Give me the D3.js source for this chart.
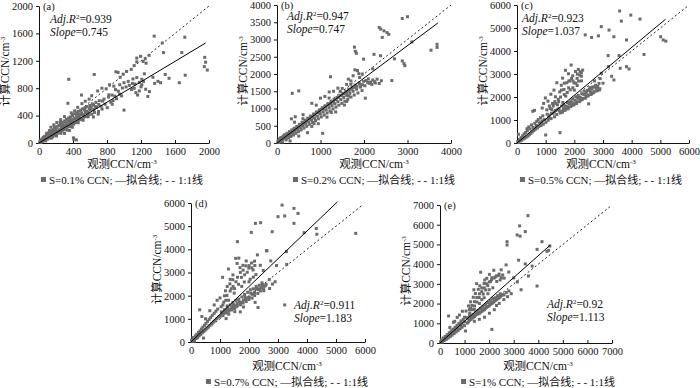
<!DOCTYPE html>
<html>
<head>
<meta charset="utf-8">
<script src="https://cdn.jsdelivr.net/npm/d3@7"></script>
<style>
body { margin: 0; background: #fff; }
svg text { font-family: "Liberation Serif", "Noto Sans CJK SC", serif; fill: #111; }
</style>
</head>
<body>
<svg id="chart" width="700" height="388"></svg>
<script>
// labels and stats
var panelLabels = ['(a)', '(b)', '(c)', '(d)', '(e)'];
var supersat = ['0.1%', '0.2%', '0.5%', '0.7%', '1%'];
var adjR2 = ['0.939', '0.947', '0.923', '0.911', '0.92'];
var slopes = ['0.745', '0.747', '1.037', '1.183', '1.113'];

// tick values
var ticksA = [0, 400, 800, 1200, 1600, 2000];
var xTicksB = [0, 1000, 2000, 3000, 4000];
var yTicksB = [0, 500, 1000, 1500, 2000, 2500, 3000, 3500, 4000];
var ticksCD = [0, 1000, 2000, 3000, 4000, 5000, 6000];
var ticksE = [0, 1000, 2000, 3000, 4000, 5000, 6000, 7000];

// fit line and 1:1 line end points
var fitA = [[0, 0], [1960, 1460]], oneA = [[0, 0], [2000, 2000]];
var fitB = [[0, 0], [3700, 3480]], oneB = [[0, 0], [4000, 4000]];
var fitC = [[0, 0], [5180, 5380]], oneC = [[0, 0], [6000, 6000]];
var fitD = [[0, 0], [5050, 6050]], oneD = [[0, 0], [5900, 5900]];
var fitE = [[0, 0], [4490, 4970]], oneE = [[0, 0], [7000, 7000]];

var pointsA = [
  [8,12],[15,34],[22,8],[28,48],[33,20],[40,62],[47,28],[52,80],[61,44],[66,96],[73,51],[79,31],[85,115],[93,66],[99,128],
  [104,58],[113,99],[117,146],[126,79],[130,163],[138,102],[145,70],[149,181],[157,122],[162,91],[171,194],[177,147],[184,113],
  [188,215],[198,157],[203,124],[213,238],[219,171],[224,146],[235,256],[239,193],[248,163],[253,281],[263,221],[271,176],
  [276,302],[286,239],[292,193],[302,322],[307,256],[318,207],[322,344],[333,266],[338,233],[348,362],[352,297],[364,241],
  [368,381],[379,311],[383,268],[394,402],[401,327],[409,275],[414,426],[426,350],[430,297],[441,442],[445,371],[457,323],
  [462,461],[473,380],[477,341],[489,478],[494,410],[505,346],[511,497],[523,414],[528,377],[541,515],[546,445],[559,386],
  [563,531],[578,452],[584,411],[598,548],[605,484],[620,421],[628,571],[645,490],[652,446],[670,592],[679,520],[700,460],
  [710,618],[731,536],[742,495],[765,641],[778,566],[803,516],[818,671],[845,596],[862,566],[893,684],[912,646],[948,714],[972,688],
  [60,70],[110,120],[150,140],[200,190],[230,170],[262,243],[283,262],[318,296],[352,318],[381,342],[412,364],[443,402],
  [471,418],[502,441],[538,482],[561,463],[592,503],[613,522],[641,553],[663,534],[205,102],[258,141],[331,188],[392,229],
  [461,296],[519,332],[577,383],[250,302],[181,232],[122,181],[91,143],[703,562],[748,612],[822,703],[871,618],[933,757],
  [981,803],[1024,818],[1063,842],[300,140],[358,183],[640,380],[697,423],
  [140,230],[175,265],[210,300],[255,340],[300,385],[345,360],[380,440],[420,470],[455,520],[505,575],[545,610],[590,640],
  [620,690],[690,760],[740,800],[790,790],[830,850],[880,830],[905,1040],[930,1030],[955,960],[990,1005],[1030,1045],
  [1085,1075],[1120,1130],[1150,1185],[1195,1265],[1225,1190],[1260,1165],[1295,1280],[1150,1240],[1250,1230],
  [340,580],[350,930],[500,700],[650,1000],[1000,480],[1300,750],[405,75],[440,45],[410,55],
  [1100,870],[1120,800],[1140,735],[1160,700],[1180,760],[1200,820],[1210,930],[1230,900],[1255,785],[1280,680],[1105,935],
  [1150,955],[1240,1010],[1180,885],[1130,860],[1210,850],[1090,780],[1050,900],[1000,880],[950,850],[900,780],[860,700],
  [1355,1560],[1450,1460],[1465,1320],[1485,1000],[1430,880],[1360,870],[1530,945],[1650,880],[1680,1320],[1720,990],
  [1715,1545],[1950,1250],[1960,1180],[1945,1115],[1980,1065],[1340,960],[1400,900]
];
var pointsB = [
  [15,30],[30,80],[45,15],[60,120],[75,50],[90,160],[110,90],[125,30],[140,200],[160,130],[175,240],[195,170],[210,90],
  [230,280],[250,210],[265,150],[285,330],[305,250],[320,190],[340,380],[360,300],[380,230],[395,430],[415,350],[435,280],
  [455,480],[475,400],[495,330],[515,540],[535,450],[555,380],[575,600],[598,505],[620,430],[640,660],[662,560],[684,485],
  [705,720],[728,615],[750,540],[772,780],[795,670],[818,595],[840,840],[862,725],[885,650],[905,900],[928,780],[950,700],
  [972,960],[995,840],[1018,755],[1040,1020],[1062,900],[1085,810],[1108,1080],[1130,960],[1152,870],[1175,1140],[1198,1020],
  [1220,925],[1242,1200],[1265,1080],[1288,985],[1310,1260],[1332,1140],[1355,1040],[1378,1320],[1400,1200],[1422,1095],
  [1445,1380],[1468,1260],[1490,1150],[1512,1440],[1535,1320],[1558,1210],[1580,1500],[1603,1380],[1626,1265],[1650,1560],
  [1675,1440],[1700,1330],[1725,1620],[1750,1500],[1775,1390],[1800,1680],[1830,1560],[1860,1450],[1890,1740],[1920,1620],
  [1955,1520],[1990,1790],[2020,1660],
  [132,144],[181,118],[243,262],[292,196],[371,354],[428,417],[493,462],[561,497],[612,583],[688,641],[743,703],[809,757],
  [872,823],[931,884],[988,918],[1063,983],[1118,1043],[1183,1097],[1237,1134],[1302,1183],[1361,1262],[1418,1324],
  [1483,1377],[1539,1423],[1602,1462],[1658,1524],[1721,1557],[1783,1613],[1838,1642],[1902,1703],[1963,1688],[402,603],
  [597,704],[903,1098],[1198,1302],[1452,1497],[1697,1703],[853,562],[1247,883],[1603,1204],
  [330,700],[420,760],[600,820],[800,1150],[1000,1300],[1100,1350],[1200,1480],[1300,1500],[1400,1590],[1500,1580],
  [1600,1700],[1650,1360],[1550,1100],[1350,900],[1150,750],[950,560],[800,480],[700,300],[500,200],[300,60],[1050,280],
  [350,1440],[500,1510],[1230,1920],
  [2050,1810],[2100,1860],[2150,1765],[2200,1825],[2240,1780],[2300,1850],[2350,1725],[2400,1805],[2180,1700],[2120,1730],
  [2030,1300],[2640,1810],[2260,1740],[2080,1760],
  [1780,2780],[1800,2660],[1825,2600],[1790,2120],[1850,2100],[1880,2010],[1990,2430],[2230,2570],[2380,2530],[2700,2440],
  [2350,3350],[2385,3300],[2460,3250],[2530,3200],[2570,3150],[2420,3060],[2880,3610],[3000,3660],[3100,2930],[2880,2380],
  [2920,2300],[2940,2240],[3540,2690],[3680,2770],[3680,2860],[2200,2150],[1900,1900],[1960,2000],[1700,1800],[1640,1850],
  [1750,1950]
];
var pointsC = [
  [25,60],[50,380],[60,20],[85,150],[110,90],[140,230],[165,120],[195,310],[220,180],[250,390],[270,210],[300,460],[325,260],
  [350,620],[360,530],[390,300],[410,700],[430,370],[455,610],[480,420],[505,790],[530,480],[550,1380],[560,680],[590,540],
  [610,1420],[620,860],[640,600],[670,760],[690,940],[710,650],[740,1020],[760,720],[790,880],[820,1100],[840,760],[870,960],
  [900,1180],[920,820],[950,1020],
  [880,1520],[930,1720],[990,1960],[1040,1440],[1080,1820],[1130,1610],[1180,2120],[1240,1720],[1290,2300],[1340,2010],
  [1390,2620],[1440,1900],[1490,2220],[1545,2510],[1590,2820],[1640,2330],[1690,3160],[1740,2620],[1795,3010],[1840,2700],
  [1890,3390],[1945,2920],[1990,2610],[2040,3110],[2095,2810],[2140,3200],[2190,2950],[2245,3060],[2290,3170],[1700,2040],
  [1600,1760],[1410,1660],[1210,1460],[1050,1250],[1320,1800],[1520,2000],[1800,2400],[2000,2300],[2100,2500],[1950,2700],
  [2250,2700],[1650,2600],[1550,2300],
  [1157,1497],[1262,1603],[1348,1712],[1453,1795],[1648,2107],[1752,2196],[1857,2311],[1948,2402],[2053,2604],[2147,2693],
  [2246,2904],[2203,3097],[2104,2996],[1903,2805],[1806,2694],
  [1010,900],[1090,990],[1190,1060],[1310,1140],[1390,1240],[1510,1310],[1590,1390],[1710,1490],[1790,1560],[1910,1640],
  [2010,1710],[2090,1790],[2210,1860],[2290,1940],[2410,2010],[2490,2090],[2610,2160],[2690,2240],[2810,2310],[2890,2360],
  [1140,1210],[1260,1290],[1340,1410],[1460,1490],[1560,1610],[1640,1640],[1760,1760],[1860,1790],[1940,1910],[2060,2010],
  [2140,2060],[2260,2140],[2340,2260],[2460,2290],[2540,2410],[2640,2440],[2740,2510],[2860,2590],[2560,2230],[2760,2380],
  [2380,2110],[2200,1980],[1500,450],[1000,350],[2500,1700],[2700,2700],[2900,2800],
  [1583,1334],[1677,1418],[1784,1483],[1876,1579],[1983,1652],[2078,1718],[2184,1803],[2277,1884],[2383,1947],[2476,2043],
  [2584,2107],[2677,2183],[2784,2262],[2873,2303],[1624,1497],[1718,1602],[1823,1697],[1917,1763],[2024,1857],[2118,1943],
  [2324,2116],[2417,2204],[2523,2318],[2617,2353],[2723,2437],[2817,2456],[1203,1296],[1097,1103],[1304,1352],[1402,1447],
  [1478,1396],
  [2380,4700],[2600,4590],[2840,4660],[2940,5060],[3210,4910],[3380,4620],[3580,5740],[3640,5300],[3970,5560],[4290,5390],
  [3820,4480],[5010,4620],[5100,4480],[5190,4430],[4430,3850],[3180,3800],[3560,3800],[3820,3320],[3910,3220],[3190,3320],
  [3380,2740],[2940,3030],[3600,3250],[3300,2900],[3000,2600]
];
var pointsD = [
  [20,80],[45,30],[70,190],[95,110],[120,40],[150,260],[175,150],[200,330],[230,200],[255,410],[280,270],[300,1390],[310,480],
  [335,330],[375,1100],[360,560],[385,390],[410,640],[430,170],[440,450],[465,720],[490,510],[515,800],[545,570],[570,890],
  [600,640],[625,980],[655,710],[680,1060],[710,780],[735,1150],[770,860],[800,1240],[830,930],[860,1330],[890,1000],
  [920,1420],[950,1080],[500,1000],[650,1350],[800,1600],[900,1800],
  [1000,1900],[1040,1520],[1090,2790],[1130,1720],[1190,2210],[1240,2010],[1290,3150],[1340,2510],[1390,2300],[1440,2690],
  [1490,2110],[1540,3610],[1590,3390],[1640,2490],[1690,3210],[1740,2790],[1790,3310],[1840,2590],[1890,3290],[1940,3010],
  [1990,3190],[2040,2710],[2090,3410],[2140,3110],[2190,3490],[2240,2910],[2290,3760],[2390,3310],[2490,3090],[2600,3940],
  [1600,4330],[1650,3620],[1350,2200],[1450,2400],[1550,2600],[1750,2400],[1850,2900],[2000,2600],[2150,2800],[1200,1800],
  [1100,1600],
  [1248,2397],[1352,2703],[1447,2896],[1702,3004],[1904,3497],[2003,3296],[2097,3204],[2203,3303],[1797,3103],[1603,2797],
  [1503,2304],[1297,1803],[1153,1996],
  [1010,1110],[1110,1240],[1210,1360],[1290,1410],[1410,1490],[1510,1560],[1590,1660],[1710,1690],[1810,1810],[1890,1860],
  [2010,1940],[2110,2060],[2190,2140],[2310,2260],[2410,2340],[2490,2410],[2590,2490],[1060,1190],[1160,1290],[1260,1460],
  [1360,1420],[1460,1610],[1560,1520],[1660,1740],[1760,1720],[1860,1940],[1960,1900],[2060,2110],[2160,2070],[2260,2310],
  [2360,2270],[2460,2480],[2560,2420],[1210,1010],[1510,1310],[1810,1510],[2210,1710],[2510,2210],[2310,1490],[2710,2310],
  [2810,2500],[2950,3300],[2900,2600],[2700,2700],[1300,1200],[1700,1300],
  [1047,1304],[1153,1396],[1246,1553],[1354,1597],[1447,1704],[1553,1796],[1646,1853],[1754,1947],[1847,2053],[1953,2146],
  [2047,2254],[2153,2297],[2246,2403],[2354,2446],[2447,2553],[1104,1146],[1196,1253],[1304,1327],[1396,1384],[1504,1446],
  [1596,1563],[1704,1607],[1796,1684],[1904,1746],[1996,1834],[2104,1896],[2196,2004],[2304,2096],[2396,2204],[2504,2296],
  [2220,5120],[2400,5150],[2080,4730],[2800,4760],[3140,5910],[3550,5770],[3690,5550],[3230,5440],[3550,5120],[3000,5410],
  [3900,4720],[4320,4900],[4340,4650],[5680,4690],[3290,3900],[2620,3940],[3230,1600],[3300,3350],[2750,3500]
];
var pointsE = [
  [25,60],[60,150],[95,40],[130,250],[170,120],[210,330],[250,180],[290,420],[350,1370],[330,250],[375,520],[415,320],
  [455,620],[495,400],[535,700],[550,1050],[575,480],[615,800],[655,560],[700,1300],[695,900],[735,640],[775,1000],[815,720],
  [850,1010],[860,1120],[895,800],[945,1200],[995,880],[1040,610],[400,790],[600,1100],[790,1420],[910,1610],[1000,1310],
  [203,233],[297,318],[402,452],[497,553],[603,648],[698,752],[803,897],[897,1003],[1002,1097],
  [1060,1620],[1095,1290],[1160,1880],[1210,1520],[1245,2090],[1310,1690],[1355,2320],[1405,1880],[1440,2510],[1505,2080],
  [1560,2720],[1595,2310],[1655,3590],[1700,2790],[1760,2480],[1795,3020],[1860,2690],[1905,3280],[1945,2910],[2010,3480],
  [2055,3120],[2110,3310],[2190,3690],[2310,3120],[2395,3420],[2490,3710],[2610,3290],[2690,3960],[1490,3010],[1380,2700],
  [1620,2900],[1820,3200],[2250,3350],[2450,3200],[2550,3450],[1950,2500],[2150,2800],[1700,2200],[1250,1750],
  [1203,1697],[1297,1904],[1402,2096],[1498,2303],[1603,2497],[1697,2604],[1803,2796],[1897,3003],[2003,3096],[2097,3203],
  [2203,3296],[2297,3404],[2403,3496],[2497,3304],[2003,2703],[1797,2296],[1603,2004],[1397,1703],[1203,1396],
  [1110,1010],[1190,1140],[1305,1260],[1395,1340],[1510,1460],[1595,1490],[1705,1610],[1810,1690],[1895,1810],[2005,1890],
  [2110,2010],[2195,2090],[2305,2210],[2405,2290],[2495,2410],[2605,2440],[2695,2560],[2805,2640],[1150,1060],[1260,1190],
  [1350,1300],[1450,1410],[1550,1520],[1650,1560],[1750,1660],[1850,1760],[1950,1850],[2050,1960],[2150,2040],[2250,2150],
  [2350,2250],[2450,2340],[2550,2450],[1810,1310],[2010,1510],[2210,1690],[2410,2010],[2110,690],[1600,1200],[2600,2200],
  [2750,2350],[2300,1900],[1400,1100],
  [1147,1253],[1253,1347],[1347,1453],[1453,1547],[1547,1653],[1653,1747],[1747,1853],[1853,1947],[1947,2053],[2053,2147],
  [2147,2253],[2253,2297],[2347,2403],[2453,2497],
  [3580,6460],[3240,5940],[3470,5650],[3140,5480],[3260,5420],[2730,5140],[2730,4970],[3950,4750],[4150,5140],[4470,4920],
  [4350,4650],[4420,4700],[3470,4010],[3950,2890],[3150,3100],[3300,2700],[3600,3400],[3750,3900],[3000,3300],[2900,2500],
  [2800,3600],[3200,4200]
];

var panels = [
  {xTicks: ticksA, yTicks: ticksA, pts: pointsA, fit: fitA, one: oneA},
  {xTicks: xTicksB, yTicks: yTicksB, pts: pointsB, fit: fitB, one: oneB},
  {xTicks: ticksCD, yTicks: ticksCD, pts: pointsC, fit: fitC, one: oneC},
  {xTicks: ticksCD, yTicks: ticksCD, pts: pointsD, fit: fitD, one: oneD},
  {xTicks: ticksE, yTicks: ticksE, pts: pointsE, fit: fitE, one: oneE}
];

// pixel layout of each panel
var layout = [
  {l: 39,  r: 209, t: 6,   b: 143, cx: 122, statX: 50,  statY: 23,  xTitleY: 168, legendY: 184},
  {l: 277, r: 451, t: 5,   b: 143, cx: 374, statX: 287, statY: 20,  xTitleY: 168, legendY: 184},
  {l: 517, r: 689, t: 5,   b: 143, cx: 601, statX: 522, statY: 22,  xTitleY: 168, legendY: 184},
  {l: 191, r: 365, t: 203, b: 342, cx: 287, statX: 294, statY: 309, xTitleY: 370, legendY: 386},
  {l: 440, r: 612, t: 205, b: 343, cx: 538, statX: 547, statY: 308, xTitleY: 370, legendY: 386}
];

var svg = d3.select('#chart');

panels.forEach(function(p, i) {
  var L = layout[i];
  var xMax = p.xTicks[p.xTicks.length - 1], yMax = p.yTicks[p.yTicks.length - 1];
  var x = d3.scaleLinear().domain([0, xMax]).range([L.l, L.r]);
  var y = d3.scaleLinear().domain([0, yMax]).range([L.b, L.t]);
  var g = svg.append('g');

  // axes
  var xAxis = d3.axisBottom(x).tickValues(p.xTicks).tickSizeInner(-3).tickSizeOuter(0).tickPadding(5).tickFormat(d3.format('d'));
  var yAxis = d3.axisLeft(y).tickValues(p.yTicks).tickSizeInner(3).tickSizeOuter(0).tickPadding(3).tickFormat(d3.format('d'));
  g.append('g').attr('transform', 'translate(0,' + L.b + ')').call(xAxis);
  g.append('g').attr('transform', 'translate(' + L.l + ',0)').call(yAxis);
  g.selectAll('.domain, .tick line').attr('stroke', '#111');
  g.selectAll('.tick text').attr('font-size', 10.5).attr('fill', '#111')
    .style('font-family', '"Liberation Serif", serif');

  var line = d3.line().x(function(d) { return x(d[0]); }).y(function(d) { return y(d[1]); });
  // 1:1 line
  g.append('path').datum(p.one).attr('d', line).attr('fill', 'none')
    .attr('stroke', '#222').attr('stroke-width', 1).attr('stroke-dasharray', '2,2.5');

  // points
  g.selectAll('.dot').data(p.pts).enter().append('rect')
    .attr('class', 'dot')
    .attr('x', function(d) { return x(d[0]) - 1.5; })
    .attr('y', function(d) { return y(d[1]) - 1.5; })
    .attr('width', 3).attr('height', 3)
    .attr('fill', '#6b6b6b');

  // fit line
  g.append('path').datum(p.fit).attr('d', line).attr('fill', 'none')
    .attr('stroke', '#000').attr('stroke-width', 1);

  // panel label
  g.append('text').attr('x', L.l + 4).attr('y', L.t + 4).attr('font-size', 10.5).text(panelLabels[i]);

  // stats
  var s1 = g.append('text').attr('x', L.statX).attr('y', L.statY).attr('font-size', 11.5);
  s1.append('tspan').attr('font-style', 'italic').text('Adj.R');
  s1.append('tspan').attr('font-size', 7).attr('dy', -4.5).text('2');
  s1.append('tspan').attr('dy', 4.5).text('=' + adjR2[i]);
  var s2 = g.append('text').attr('x', L.statX).attr('y', L.statY + 12.5).attr('font-size', 11.5);
  s2.append('tspan').attr('font-style', 'italic').text('Slope');
  s2.append('tspan').text('=' + slopes[i]);

  // axis titles
  var xt = g.append('text').attr('x', L.cx).attr('y', L.xTitleY).attr('text-anchor', 'middle').attr('font-size', 11.5);
  xt.append('tspan').text('观测CCN/cm');
  xt.append('tspan').attr('font-size', 7).attr('dy', -4.5).text('-3');
  var yc = (L.t + L.b) / 2 - 3;
  var yt = g.append('text').attr('transform', 'translate(' + (L.l - 30) + ',' + yc + ') rotate(-90)')
    .attr('text-anchor', 'middle').attr('font-size', 11.5);
  yt.append('tspan').text('计算CCN/cm');
  yt.append('tspan').attr('font-size', 7).attr('dy', -4.5).text('-3');

  // legend
  var lg = g.append('g');
  lg.append('rect').attr('x', 0).attr('y', L.legendY - 7).attr('width', 5).attr('height', 5).attr('fill', '#6b6b6b');
  var lt = lg.append('text').attr('x', 8).attr('y', L.legendY).attr('font-size', 11)
    .text('S=' + supersat[i] + ' CCN; —拟合线; - - 1:1线');
  var w = 8 + lt.node().getComputedTextLength();
  lg.attr('transform', 'translate(' + (L.cx - w / 2) + ',0)');
});
</script>
</body>
</html>
